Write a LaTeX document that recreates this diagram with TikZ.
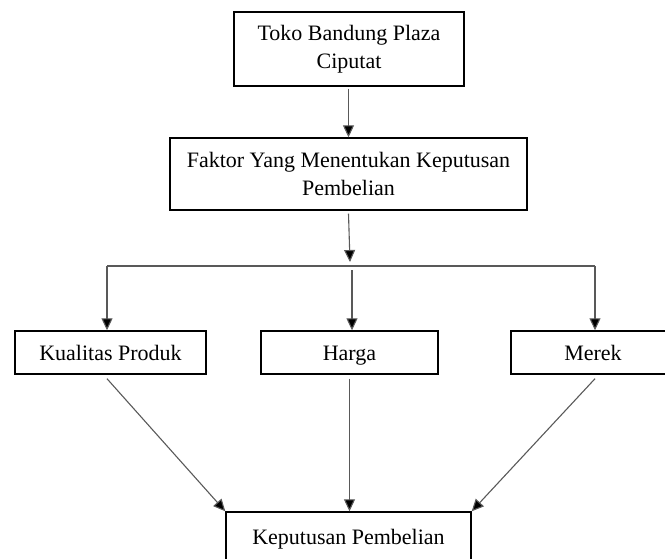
\documentclass[tikz,border=0pt]{standalone}
\usepackage{fontspec}
\setmainfont{Liberation Serif}
\usetikzlibrary{arrows.meta}

\begin{document}
\begin{tikzpicture}[x=1pt, y=-1pt,
    kotak/.style={draw, black, line width=1.4pt, inner sep=0pt, align=center,
        font=\fontsize{22}{28}\selectfont},
    sebaris/.style={kotak, text height=15pt, text depth=0pt},
    garis/.style={draw=black!65, line width=1.1pt},
    panah/.style={garis, -{Triangle[length=12pt, width=11pt, fill=black]}}]
    \useasboundingbox (0, 0) rectangle (665, 558);

    \draw (349, 49) node[kotak, minimum width=230, minimum height=74](toko){Toko Bandung Plaza\\Ciputat}
       (348.5, 174) node[kotak, minimum width=357, minimum height=72](faktor){Faktor Yang Menentukan Keputusan\\Pembelian}
       (110.5, 352.5) node[sebaris, minimum width=191, minimum height=43](kualitas){Kualitas Produk}
       (349.5, 352.5) node[sebaris, minimum width=177, minimum height=43](harga){Harga}
       (593, 352.5) node[sebaris, minimum width=164, minimum height=43](merek){Merek}
       (348.5, 537) node[sebaris, minimum width=245, minimum height=50](keputusan){Keputusan Pembelian};

    \coordinate (cabang) at (350, 262);
    \coordinate (kiri) at (107, 266);
    \coordinate (kanan) at (595, 266);
    \coordinate (tengah) at (352, 270);

    \draw[panah] ([yshift=-2]toko.south -| faktor.north) -- (faktor.north);
    \draw[panah] ([yshift=-3]faktor.south) -- (cabang);
    \draw[garis] (kiri) -- (kanan);
    \draw[panah] (kiri) -- (kiri |- kualitas.north);
    \draw[panah] (tengah) -- (tengah |- harga.north);
    \draw[panah] (kanan) -- (kanan |- merek.north);
    \draw[panah] ([yshift=-4]kualitas.south -| kiri) -- (keputusan.north west);
    \draw[panah] ([yshift=-4]harga.south) -- (harga.south |- keputusan.north);
    \draw[panah] ([yshift=-4]merek.south -| kanan) -- (keputusan.north east);
\end{tikzpicture}
\end{document}
